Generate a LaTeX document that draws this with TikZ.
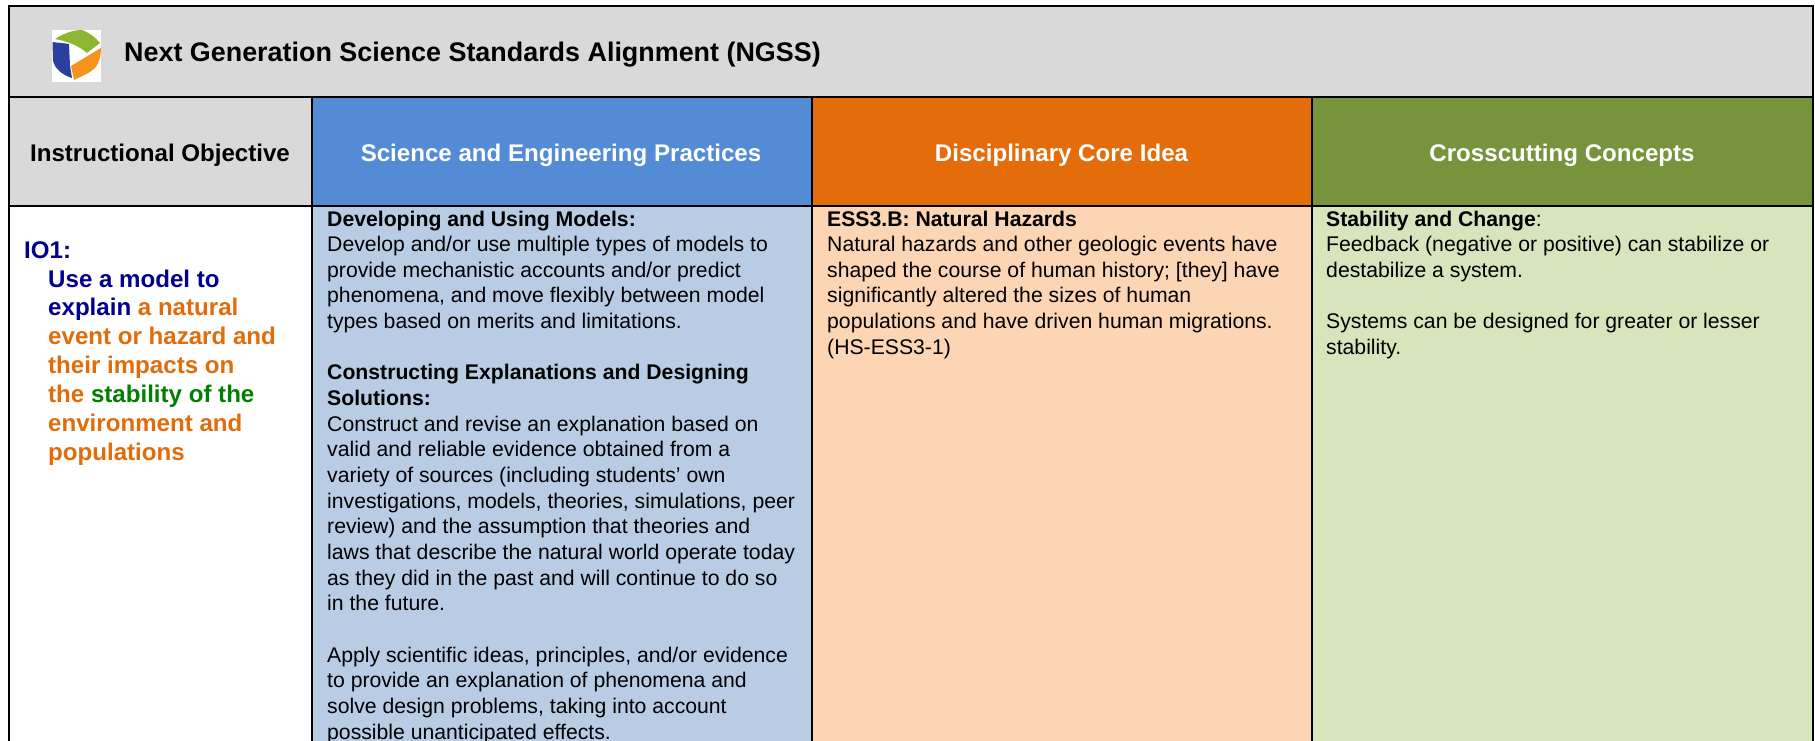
\documentclass[tikz,border=0pt]{standalone}
\usepackage{fontspec}
\setmainfont{Liberation Sans}
\definecolor{hgray}{HTML}{D9D9D9}
\definecolor{hblue}{HTML}{538CD5}
\definecolor{horange}{HTML}{E46C0A}
\definecolor{hgreen}{HTML}{77933C}
\definecolor{bblue}{HTML}{B8CCE4}
\definecolor{borange}{HTML}{FCD5B5}
\definecolor{bgreen}{HTML}{D7E4BC}
\definecolor{tnavy}{HTML}{000090}
\definecolor{torange}{HTML}{E36C0A}
\definecolor{tgreen}{HTML}{008000}
\definecolor{lgreen}{HTML}{8DB733}
\definecolor{lblue}{HTML}{2B3F9C}
\definecolor{lorange}{HTML}{F6921E}
\newcommand{\cellblock}[1]{\parbox[t]{480pt}{#1}}
\tikzset{
  cell/.style={draw=black,line width=2.4pt},
  headtext/.style={font=\fontsize{24.1}{28}\selectfont\bfseries,anchor=base,inner sep=0pt},
  bodytext/.style={font=\fontsize{21.2}{25.65}\selectfont,anchor=base west,inner sep=0pt},
  objtext/.style={font=\fontsize{24.1}{28.9}\selectfont\bfseries,anchor=base west,inner sep=0pt}
}
\begin{document}
\begin{tikzpicture}[x=1pt,y=-1pt]
\useasboundingbox (0,0) rectangle (1815,741);
\fill[white] (0,0) rectangle (1815,741);
% cells
\path[cell,fill=hgray] (9,6) rectangle (1813,97);
\path[cell,fill=hgray] (9,97) rectangle (312,206);
\path[cell,fill=hblue] (312,97) rectangle (812,206);
\path[cell,fill=horange] (812,97) rectangle (1312,206);
\path[cell,fill=hgreen] (1312,97) rectangle (1813,206);
\path[cell,fill=white] (9,206) rectangle (312,760);
\path[cell,fill=bblue] (312,206) rectangle (812,760);
\path[cell,fill=borange] (812,206) rectangle (1312,760);
\path[cell,fill=bgreen] (1312,206) rectangle (1813,760);
% logo
\fill[white] (52,30) rectangle (101,82);
\fill[lgreen] (55,39) .. controls (64,33) and (74,30) .. (82,30) .. controls (90,33) and (96,38) .. (100,43) -- (87,53) .. controls (78,45) and (66,41) .. (55,39) -- cycle;
\fill[lblue] (52.5,42) .. controls (58,43) and (64,43) .. (69,44) -- (70,66) -- (72,78) .. controls (62,75) and (54,68) .. (53,60) -- cycle;
\fill[lorange] (101,48) .. controls (101,58) and (98,65) .. (95,68) .. controls (90,73) and (82,76) .. (74,80) -- (71,66) -- cycle;
% texts
\node[font=\fontsize{26.9}{30}\selectfont\bfseries,anchor=base west,inner sep=0pt] (title) at (124,61.5) {Next Generation Science Standards Alignment (NGSS)};
\node[headtext] (h1) at (160,161) {Instructional Objective};
\node[headtext,text=white] (h2) at (561,161) {Science and Engineering Practices};
\node[headtext,text=white] (h3) at (1061.5,161) {Disciplinary Core Idea};
\node[headtext,text=white] (h4) at (1562,161) {Crosscutting Concepts};
\node[objtext,text=tnavy] (io) at (24,258) {IO1:};
\node[objtext] (obj) at (48,287) {\parbox[t]{260pt}{\textcolor{tnavy}{Use a model to}\\\textcolor{tnavy}{explain} \textcolor{torange}{a natural}\\\textcolor{torange}{event or hazard and}\\\textcolor{torange}{their impacts on}\\\textcolor{torange}{the} \textcolor{tgreen}{stability of the}\\\textcolor{torange}{environment and}\\\textcolor{torange}{populations}}};
\node[bodytext] (b1) at (327,226) {\cellblock{\textbf{Developing and Using Models:}\\Develop and/or use multiple types of models to\\provide mechanistic accounts and/or predict\\phenomena, and move flexibly between model\\types based on merits and limitations.\\[25.65pt]\textbf{Constructing Explanations and Designing}\\\textbf{Solutions:}\\Construct and revise an explanation based on\\valid and reliable evidence obtained from a\\variety of sources (including students’ own\\investigations, models, theories, simulations, peer\\review) and the assumption that theories and\\laws that describe the natural world operate today\\as they did in the past and will continue to do so\\in the future.\\[25.65pt]Apply scientific ideas, principles, and/or evidence\\to provide an explanation of phenomena and\\solve design problems, taking into account\\possible unanticipated effects.}};
\node[bodytext] (b2) at (827,226) {\cellblock{\textbf{ESS3.B: Natural Hazards}\\Natural hazards and other geologic events have\\shaped the course of human history; [they] have\\significantly altered the sizes of human\\populations and have driven human migrations.\\(HS-ESS3-1)}};
\node[bodytext] (b3) at (1326,226) {\cellblock{\textbf{Stability and Change}:\\Feedback (negative or positive) can stabilize or\\destabilize a system.\\[25.65pt]Systems can be designed for greater or lesser\\stability.}};
\end{tikzpicture}
\end{document}
